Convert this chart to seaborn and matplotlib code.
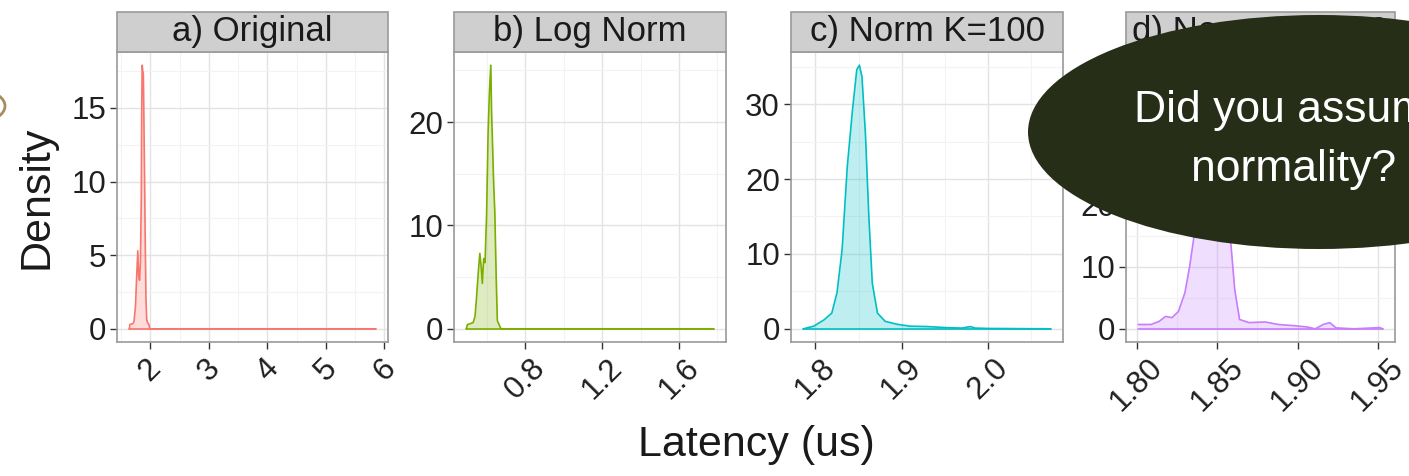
import numpy as np
import pandas as pd
import matplotlib
matplotlib.use("Agg")
import matplotlib.pyplot as plt
from matplotlib.patches import Rectangle, Ellipse
from matplotlib.ticker import MultipleLocator, FixedLocator
import seaborn as sns

# ---------------- data ----------------
titles = ["a) Original", "b) Log Norm", "c) Norm K=100", "d) Norm K=1000"]
colors = ["#F8766D", "#7CAE00", "#00BFC4", "#C77CFF"]

a_x = [1.64, 1.65, 1.70, 1.72, 1.745, 1.765, 1.785, 1.80, 1.815, 1.83, 1.845, 1.852, 1.860,
       1.870, 1.880, 1.890, 1.900, 1.912, 1.925, 1.938, 1.955, 1.975, 1.99, 2.2, 3.0, 4.0, 5.0, 5.85]
a_y = [0.0, 0.3, 0.35, 0.5, 1.5, 3.5, 5.3, 3.6, 3.3, 4.5, 9.0, 15.0, 17.9,
       17.5, 17.3, 14.0, 10.5, 6.0, 2.0, 0.6, 0.4, 0.3, 0.0, 0.0, 0.0, 0.0, 0.0, 0.0]

b_x = [0.495, 0.50, 0.53, 0.54, 0.547, 0.557, 0.565, 0.572, 0.578, 0.585, 0.592, 0.600, 0.608,
       0.615, 0.622, 0.626, 0.630, 0.637, 0.643, 0.650, 0.656, 0.665, 0.675, 0.8, 1.2, 1.6, 1.78]
b_y = [0.0, 0.4, 0.6, 1.2, 2.8, 5.5, 7.3, 6.0, 4.4, 6.8, 6.4, 11.0, 19.0,
       23.0, 25.5, 21.0, 18.5, 14.0, 11.2, 5.0, 0.8, 0.4, 0.0, 0.0, 0.0, 0.0, 0.0]

c_x = [1.786, 1.798, 1.810, 1.819, 1.825, 1.831, 1.837, 1.843, 1.848, 1.851, 1.854, 1.858, 1.862,
       1.866, 1.872, 1.881, 1.895, 1.910, 1.930, 1.953, 1.970, 1.980, 1.985, 2.0, 2.073]
c_y = [0.0, 0.35, 1.2, 2.1, 4.8, 10.6, 21.7, 29.2, 34.6, 35.2, 33.7, 26.1, 15.0,
       6.1, 2.1, 1.0, 0.6, 0.35, 0.3, 0.15, 0.1, 0.3, 0.1, 0.05, 0.0]

d_x = [1.801, 1.809, 1.814, 1.818, 1.822, 1.826, 1.830, 1.833, 1.836, 1.840, 1.844, 1.847, 1.850,
       1.853, 1.856, 1.858, 1.861, 1.864, 1.870, 1.880, 1.888, 1.898, 1.906, 1.911, 1.916, 1.920,
       1.924, 1.935, 1.951, 1.953]
d_y = [0.7, 0.7, 1.2, 2.0, 1.8, 2.8, 5.8, 10.1, 15.5, 28.0, 38.0, 42.5, 41.0,
       34.0, 22.0, 15.5, 6.3, 1.5, 1.0, 1.1, 0.7, 0.5, 0.3, 0.0, 0.7, 1.0,
       0.15, 0.0, 0.2, 0.0]

x_ticks = [[2, 3, 4, 5, 6], [0.8, 1.2, 1.6], [1.8, 1.9, 2.0], [1.80, 1.85, 1.90, 1.95]]
x_ticklabels = [["2", "3", "4", "5", "6"], ["0.8", "1.2", "1.6"], ["1.8", "1.9", "2.0"],
                ["1.80", "1.85", "1.90", "1.95"]]
y_ticks = [[0, 5, 10, 15], [0, 10, 20], [0, 10, 20, 30], [0, 10, 20, 30, 40]]

xlabel = "Latency (us)"
ylabel = "Density"
bubble_lines = ["Did you assume", "normality?"]

# ---------------- figure ----------------
sns.set_theme(style="white")
plt.rcParams["font.family"] = ["Liberation Sans", "DejaVu Sans"]

W, H = 1409, 476
fig = plt.figure(figsize=(W / 100, H / 100), dpi=100)

panels_px = [(117, 388), (454, 726), (791, 1063), (1126, 1395)]
top_px, bot_px = 52, 342
strip_px = 40

series = [(a_x, a_y), (b_x, b_y), (c_x, c_y), (d_x, d_y)]
minor_x = [0.5, 0.2, 0.05, 0.025]
minor_y = [2.5, 5, 5, 5]

for i, ((l, r), (xs, ys)) in enumerate(zip(panels_px, series)):
    ax = fig.add_axes([l / W, 1 - bot_px / H, (r - l) / W, (bot_px - top_px) / H])
    df = pd.DataFrame({"x": xs, "y": ys})
    col = colors[i]
    ax.fill_between(df["x"], 0, df["y"], color=col, alpha=0.25, linewidth=0, zorder=2)
    sns.lineplot(data=df, x="x", y="y", ax=ax, color=col, linewidth=1.2,
                 estimator=None, sort=False, zorder=3)
    ax.plot([min(xs), max(xs)], [0, 0], color=col, linewidth=1.2, zorder=3)

    span = max(xs) - min(xs)
    ax.set_xlim(min(xs) - 0.05 * span, max(xs) + 0.05 * span)
    ymax = max(ys)
    ax.set_ylim(-0.05 * ymax, 1.05 * ymax)

    ax.xaxis.set_major_locator(FixedLocator(x_ticks[i]))
    ax.set_xticklabels(x_ticklabels[i])
    ax.yaxis.set_major_locator(FixedLocator(y_ticks[i]))
    ax.xaxis.set_minor_locator(MultipleLocator(minor_x[i]))
    ax.yaxis.set_minor_locator(MultipleLocator(minor_y[i]))
    ax.grid(which="major", color="#e3e3e3", linewidth=1.0, zorder=0)
    ax.grid(which="minor", color="#f3f3f3", linewidth=0.8, zorder=0)
    ax.set_axisbelow(True)

    ax.tick_params(axis="both", which="major", direction="out", length=5, width=1,
                   color="#333333", labelsize=22.5, labelcolor="#1f1f1f", pad=3,
                   bottom=True, left=True)
    ax.tick_params(axis="both", which="minor", length=0)
    for lab in ax.get_xticklabels():
        lab.set_rotation(45)
        lab.set_ha("center")
    for sp in ax.spines.values():
        sp.set_color("#9a9a9a")
        sp.set_linewidth(1.2)
    ax.set_xlabel("")
    ax.set_ylabel("")

    # facet strip
    h_ax = (bot_px - top_px)
    strip = Rectangle((0, 1), 1, strip_px / h_ax, transform=ax.transAxes,
                      facecolor="#cfcfcf", edgecolor="#9a9a9a", linewidth=1.2,
                      clip_on=False, zorder=5)
    ax.add_patch(strip)
    ax.text(0.5, 1 + strip_px / h_ax / 2, titles[i], transform=ax.transAxes,
            ha="center", va="center", fontsize=25, color="#1a1a1a", zorder=6)

fig.text((117 + 1395) / 2 / W, 1 - 445 / H, xlabel, ha="center", va="center",
         fontsize=31, color="#1a1a1a")
fig.text(37 / W, 1 - 197 / H, ylabel, ha="center", va="center", rotation=90,
         fontsize=31, color="#1a1a1a")

# speech bubble overlay
bubble = Ellipse((1319 / W, 1 - 132 / H), 2 * 291 / W, 2 * 117 / H,
                 transform=fig.transFigure, facecolor="#272e18", edgecolor="none", zorder=20)
fig.add_artist(bubble)
fig.text(1294 / W, 1 - 122 / H, bubble_lines[0], ha="center", va="baseline",
         fontsize=32, color="white", zorder=21)
fig.text(1294 / W, 1 - 181 / H, bubble_lines[1], ha="center", va="baseline",
         fontsize=32, color="white", zorder=21)

# small fragment at the left edge
frag = Ellipse((-18 / W, 1 - 106 / H), 46 / W, 30 / H, transform=fig.transFigure,
               facecolor="none", edgecolor="#a88a60", linewidth=2, zorder=20)
fig.add_artist(frag)

fig.savefig("out.png", dpi=100)
